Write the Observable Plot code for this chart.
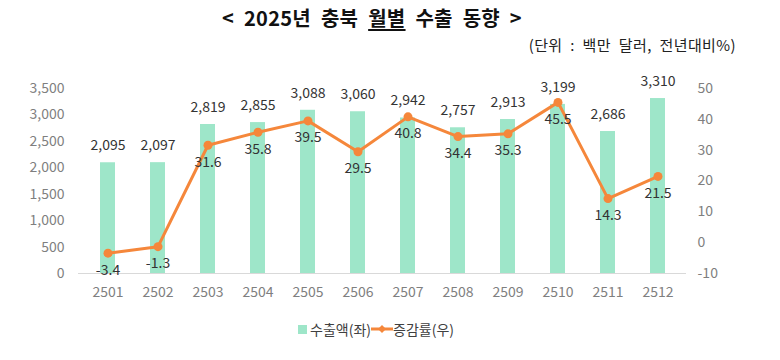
<!DOCTYPE html>
<html><head><meta charset="utf-8">
<script src="https://cdn.jsdelivr.net/npm/d3@7"></script>
<script src="https://cdn.jsdelivr.net/npm/@observablehq/plot@0.6"></script>
<style>
body{margin:0;background:#fff;font-family:"Noto Sans CJK KR","Noto Sans",sans-serif;}
#wrap{position:relative;width:780px;height:360px;overflow:hidden;}
#title{position:absolute;left:0;top:3px;width:744px;text-align:center;font-size:20px;font-weight:bold;color:#111;word-spacing:5px;letter-spacing:0.3px;}
#title u{text-decoration-thickness:1.5px;text-underline-offset:3px;}
#sub{position:absolute;right:44px;top:34px;font-size:15px;color:#222;letter-spacing:0.4px;word-spacing:4px;}
#chart{position:absolute;left:0;top:60px;}
#legend{position:absolute;left:0;top:317px;width:752px;text-align:center;font-size:14px;color:#404040;}
#legend span{display:inline-flex;align-items:center;vertical-align:middle;}
</style></head>
<body><div id="wrap">
<div id="title">&lt; 2025년 충북 <u>월별</u> 수출 동향 &gt;</div>
<div id="sub">(단위 : 백만 달러, 전년대비%)</div>
<div id="chart"></div>
<div id="legend">
<span><svg width="9" height="9"><rect width="9" height="9" fill="#9ee6c9"/></svg>&nbsp;수출액(좌)</span><span><svg width="22" height="10"><line x1="0" y1="5" x2="22" y2="5" stroke="#f5873b" stroke-width="3"/><path d="M11 1 L15 5 L11 9 L7 5 Z" fill="#f5873b"/></svg>증감률(우)</span>
</div>
</div>
<script>
const months = ["2501","2502","2503","2504","2505","2506","2507","2508","2509","2510","2511","2512"];
const exports = [2095,2097,2819,2855,3088,3060,2942,2757,2913,3199,2686,3310];
const rates = [-3.4,-1.3,31.6,35.8,39.5,29.5,40.8,34.4,35.3,45.5,14.3,21.5];
const leftTicks = [0,500,1000,1500,2000,2500,3000,3500];
const rightTicks = [-10,0,10,20,30,40,50];

const data = months.map((m,i)=>({month:m, value:exports[i], rate:rates[i]}));
const toLeft = r => (r + 10) / 60 * 3500;
const fromLeft = v => Math.round(v / 3500 * 60 - 10);
const font = "Noto Sans CJK KR";
const comma = d3.format(",");

const chart = Plot.plot({
  width: 780, height: 260,
  marginLeft: 78, marginRight: 94, marginTop: 28, marginBottom: 47,
  style: {fontFamily: font, fontSize: "14px", background: "transparent"},
  x: {domain: months, paddingInner: 0.7, paddingOuter: 0.35, label: null},
  y: {domain: [0, 3500], label: null},
  marks: [
    Plot.barY(data, {x: "month", y: "value", fill: "#9ee6c9"}),
    Plot.ruleY([0], {stroke: "#d9d9d9", strokeWidth: 1}),
    Plot.axisX({tickSize: 0, tickPadding: 14, fill: "#7f7f7f", fontSize: 14, label: null}),
    Plot.axisY({ticks: leftTicks, tickFormat: d => comma(d), tickSize: 0, tickPadding: 14, fill: "#7f7f7f", fontSize: 14, label: null}),
    Plot.axisY({anchor: "right", ticks: rightTicks.map(toLeft), tickFormat: d => String(fromLeft(d)), tickSize: 0, tickPadding: 11, fill: "#7f7f7f", fontSize: 14, label: null}),
    Plot.text(data, {x: "month", y: "value", text: d => comma(d.value), dy: -17, fill: "#333", fontSize: 14}),
    Plot.line(data, {x: "month", y: d => toLeft(d.rate), stroke: "#f5873b", strokeWidth: 3}),
    Plot.dot(data, {x: "month", y: d => toLeft(d.rate), r: 4.5, fill: "#f5873b"}),
    Plot.text(data, {x: "month", y: d => toLeft(d.rate), text: d => d.rate.toFixed(1), dy: 17, fill: "#333", fontSize: 14})
  ]
});
document.getElementById("chart").appendChild(chart);
</script>
</body></html>
